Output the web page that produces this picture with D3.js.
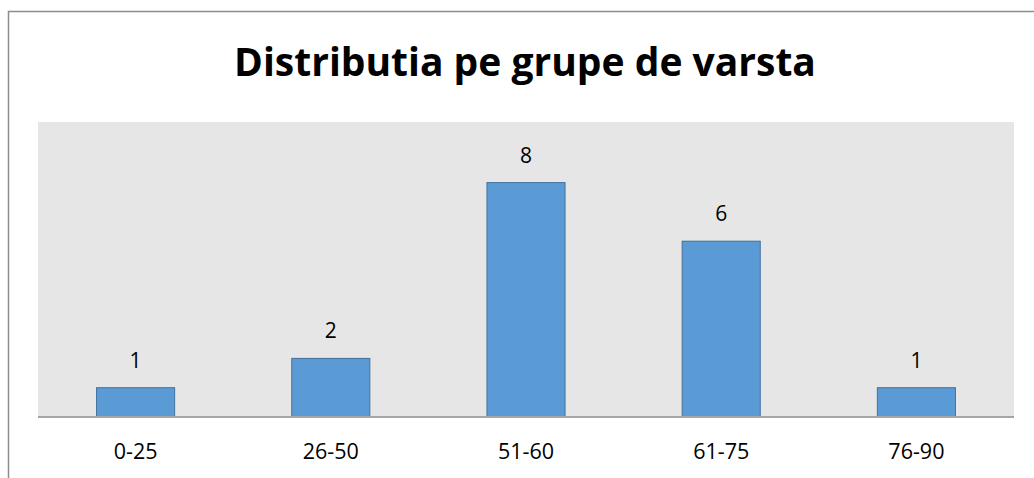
<!DOCTYPE html>
<html>
<head>
<meta charset="utf-8">
<script src="https://cdn.jsdelivr.net/npm/d3@7"></script>
<style>
  html, body { margin: 0; background: #fff; overflow: hidden; }
  svg { display: block; }
</style>
</head>
<body>
<div id="chart"></div>
<script>
var w = 1034;
var h = 478;

var groups = ["0-25", "26-50", "51-60", "61-75", "76-90"];
var counts = [1, 2, 8, 6, 1];
var title = "Distributia pe grupe de varsta";

var plot = { left: 38, right: 1014, top: 122, bottom: 417 };

var svg = d3.select("#chart").append("svg")
  .attr("width", w)
  .attr("height", h);

// chart frame (only top and left edges fall inside the picture)
svg.append("path")
  .attr("d", "M8.5," + h + "V11.5H" + w)
  .attr("fill", "none")
  .attr("stroke", "#8c8c8c")
  .attr("stroke-width", 1.5);

// plot background
svg.append("rect")
  .attr("x", plot.left).attr("y", plot.top)
  .attr("width", plot.right - plot.left)
  .attr("height", plot.bottom - plot.top)
  .attr("fill", "#e6e6e6");

var x = d3.scaleBand()
  .domain(groups)
  .range([plot.left, plot.right])
  .paddingInner(0.6)
  .paddingOuter(0.3);

var y = d3.scaleLinear()
  .domain([0, 10])
  .range([plot.bottom, plot.top + 2]);

var data = groups.map(function (g, i) { return { group: g, value: counts[i] }; });

// bars
svg.selectAll("rect.bar")
  .data(data)
  .enter()
  .append("rect")
  .attr("class", "bar")
  .attr("x", function (d) { return x(d.group); })
  .attr("y", function (d) { return y(d.value); })
  .attr("width", x.bandwidth())
  .attr("height", function (d) { return plot.bottom - y(d.value); })
  .attr("fill", "#5b9bd5")
  .attr("stroke", "#41719c")
  .attr("stroke-width", 1);

// value labels
svg.selectAll("text.val")
  .data(data)
  .enter()
  .append("text")
  .attr("class", "val")
  .attr("x", function (d) { return x(d.group) + x.bandwidth() / 2; })
  .attr("y", function (d) { return y(d.value) - 20; })
  .attr("text-anchor", "middle")
  .attr("font-family", "Open Sans, sans-serif")
  .attr("font-size", 21)
  .attr("fill", "#000")
  .text(function (d) { return d.value; });

// x axis
var xAxis = svg.append("g")
  .attr("transform", "translate(0," + plot.bottom + ")")
  .call(d3.axisBottom(x).tickSize(0).tickPadding(27));

xAxis.select(".domain")
  .attr("stroke", "#a6a6a6")
  .attr("stroke-width", 2)
  .attr("d", "M" + plot.left + ",0H" + plot.right);

xAxis.selectAll("text")
  .attr("font-family", "Open Sans, sans-serif")
  .attr("font-size", 21.5)
  .attr("fill", "#000");

// title
svg.append("text")
  .attr("x", 525)
  .attr("y", 76)
  .attr("text-anchor", "middle")
  .attr("font-family", "Open Sans, sans-serif")
  .attr("font-weight", "bold")
  .attr("font-size", 39)
  .attr("fill", "#000")
  .text(title);
</script>
</body>
</html>
